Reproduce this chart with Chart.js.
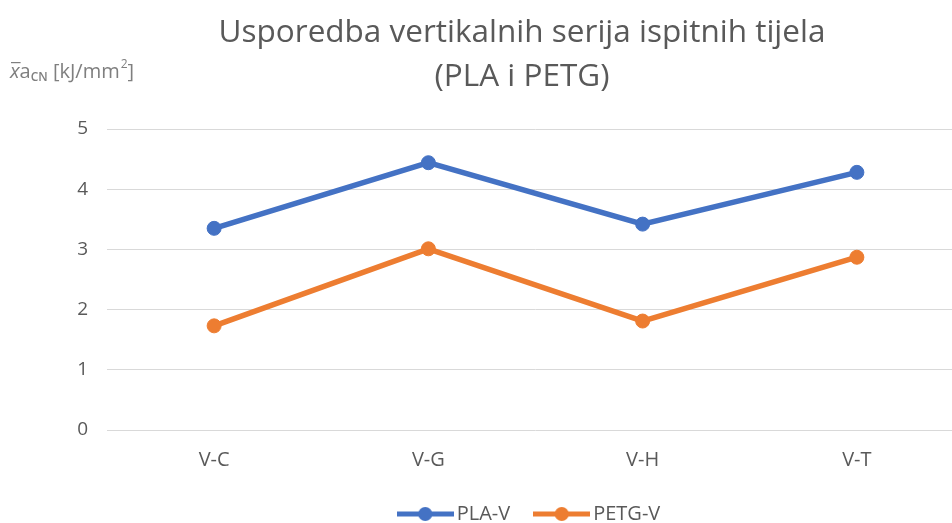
<!DOCTYPE html>
<html>
<head>
<meta charset="utf-8">
<script src="https://cdn.jsdelivr.net/npm/chart.js@4"></script>
<style>
  html, body { margin: 0; padding: 0; background: #fff; overflow: hidden; }
  #wrap { width: 964px; height: 523px; }
  canvas { display: block; }
</style>
</head>
<body>
<div id="wrap"><canvas id="my-chart" width="964" height="523"></canvas></div>
<script>
'use strict';

// ***** DATA *****

let categories = ['V-C', 'V-G', 'V-H', 'V-T'];
let plaValues = [3.35, 4.44, 3.42, 4.28];
let petgValues = [1.73, 3.01, 1.81, 2.87];
let yTicks = [0, 1, 2, 3, 4, 5];
let titleLines = ['Usporedba vertikalnih serija ispitnih tijela', '(PLA i PETG)'];

let blue = '#4472C4';
let orange = '#ED7D31';
let textGray = '#595959';
let fontName = 'Open Sans';

// ***** LEGEND ICON (line with a dot) *****

function legendIcon(color){
  let c = document.createElement('canvas');
  c.width = 57;
  c.height = 16;
  let g = c.getContext('2d');
  g.strokeStyle = color;
  g.lineWidth = 5;
  g.beginPath();
  g.moveTo(0, 8);
  g.lineTo(57, 8);
  g.stroke();
  g.fillStyle = color;
  g.beginPath();
  g.arc(28.5, 8, 7, 0, Math.PI * 2);
  g.fill();
  return c;
}

let icons = [legendIcon(blue), legendIcon(orange)];

// ***** TITLE + UNIT LABEL PLUGIN *****

let textPlugin = {
  id: 'textPlugin',
  afterLayout(chart){
    // legend sits a bit right of the canvas centre
    chart.legend.left += 50;
    chart.legend.right += 50;
  },
  afterDraw(chart){
    let ctx = chart.ctx;
    ctx.save();
    ctx.fillStyle = textGray;
    ctx.font = `31.5px "${fontName}"`;
    ctx.textAlign = 'center';
    ctx.textBaseline = 'alphabetic';
    ctx.fillText(titleLines[0], 522, 42);
    ctx.fillText(titleLines[1], 522, 86);

    // x̄aCN [kJ/mm²]
    ctx.fillStyle = '#7f7f7f';
    ctx.textAlign = 'left';
    let x = 10;
    let y = 78;
    ctx.font = `italic 20px "${fontName}"`;
    ctx.fillText('x', x, y);
    let xw = ctx.measureText('x').width;
    ctx.fillRect(x + 1, y - 16, xw, 1.2);
    x += xw;
    ctx.font = `20px "${fontName}"`;
    ctx.fillText('a', x, y);
    x += ctx.measureText('a').width;
    ctx.font = `600 12px "${fontName}"`;
    ctx.fillText('CN', x, y + 3);
    x += ctx.measureText('CN').width;
    ctx.font = `20px "${fontName}"`;
    ctx.fillText(' [kJ/mm', x, y);
    x += ctx.measureText(' [kJ/mm').width;
    ctx.font = `12px "${fontName}"`;
    ctx.fillText('2', x + 1, y - 10);
    x += ctx.measureText('2').width + 1;
    ctx.font = `20px "${fontName}"`;
    ctx.fillText(']', x, y);
    ctx.restore();
  }
};

// ***** CHART *****

let ctx = document.getElementById('my-chart').getContext('2d');

new Chart(ctx, {
  type: 'line',
  data: {
    labels: categories,
    datasets: [{
      label: 'PLA-V',
      data: plaValues,
      borderColor: blue,
      backgroundColor: blue,
      borderWidth: 5.5,
      pointRadius: 7,
      pointBorderWidth: 1,
      pointHoverRadius: 7
    },
    {
      label: 'PETG-V',
      data: petgValues,
      borderColor: orange,
      backgroundColor: orange,
      borderWidth: 5.5,
      pointRadius: 7,
      pointBorderWidth: 1,
      pointHoverRadius: 7
    }]
  },
  options: {
    responsive: false,
    animation: false,
    layout: {
      autoPadding: false,
      padding: { top: 129, left: 0, right: 0, bottom: -11 }
    },
    scales: {
      x: {
        offset: true,
        afterFit(scale){
          scale.height -= 16;
          scale.paddingLeft = 0;
          scale.paddingRight = 0;
        },
        grid: { display: false, drawTicks: false },
        border: { display: false },
        ticks: { color: textGray, font: { family: fontName, size: 20 }, padding: 18 }
      },
      y: {
        min: 0,
        max: 5,
        afterBuildTicks(scale){
          scale.ticks = yTicks.map(v => ({ value: v }));
        },
        afterFit(scale){
          scale.width = 107;
        },
        grid: { color: '#d9d9d9', lineWidth: 1, drawTicks: false },
        border: { display: false },
        ticks: { color: textGray, font: { family: fontName, size: 19 }, padding: 19 }
      }
    },
    plugins: {
      title: { display: false },
      tooltip: { enabled: false },
      legend: {
        position: 'bottom',
        labels: {
          color: textGray,
          font: { family: fontName, size: 20 },
          usePointStyle: true,
          pointStyleWidth: 43,
          padding: 30,
          generateLabels(chart){
            let items = Chart.defaults.plugins.legend.labels.generateLabels(chart);
            items.forEach((item, i) => { item.pointStyle = icons[i]; });
            return items;
          }
        }
      }
    }
  },
  plugins: [textPlugin]
});
</script>
</body>
</html>
